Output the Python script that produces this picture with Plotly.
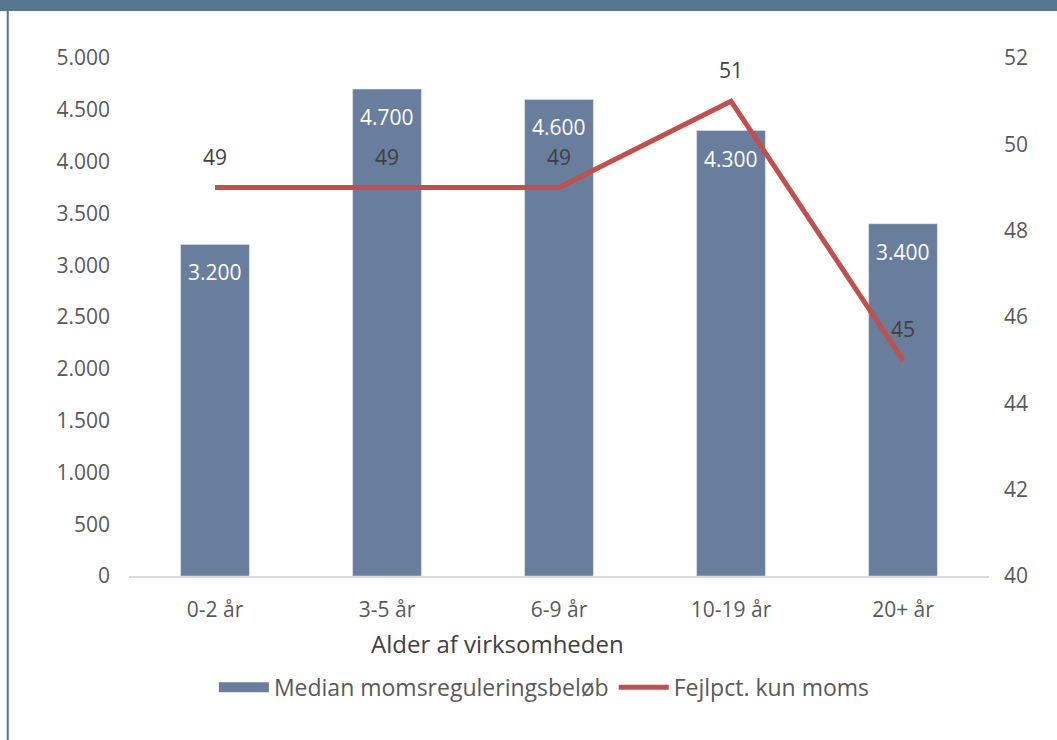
import plotly.graph_objects as go

categories = ["0-2 år", "3-5 år", "6-9 år", "10-19 år", "20+ år"]
median_beloeb = [3200, 4700, 4600, 4300, 3400]
fejlpct = [49, 49, 49, 51, 45]

FONT = "Open Sans"
GREY = "#595959"
BAR = "#687E9C"
LINE = "#C0504D"


def fmt_dk(v):
    return f"{v:,}".replace(",", ".")


fig = go.Figure()
fig.add_trace(go.Bar(
    x=categories, y=median_beloeb, name="Median momsreguleringsbeløb",
    marker_color=BAR, width=0.4, showlegend=False,
))
# legend-only entry so the bar swatch is a wide block like the original
fig.add_trace(go.Scatter(
    x=[None], y=[None], name="Median momsreguleringsbeløb", mode="lines",
    line=dict(color=BAR, width=14),
))
fig.add_trace(go.Scatter(
    x=categories, y=fejlpct, name="Fejlpct. kun moms", yaxis="y2",
    mode="lines", line=dict(color=LINE, width=5),
))
for c, v in zip(categories, median_beloeb):
    fig.add_annotation(x=c, y=v, text=fmt_dk(v), showarrow=False, yshift=-28,
                       font=dict(size=21, color="white", family=FONT))
for c, v in zip(categories, fejlpct):
    fig.add_annotation(x=c, y=v, yref="y2", text=str(v), showarrow=False,
                       yshift=31, font=dict(size=21, color="#404040", family=FONT))

# x-axis title sits left of centre in the original
fig.add_annotation(text="Alder af virksomheden", xref="paper", yref="paper",
                   x=0.428, y=-0.131, yanchor="middle", showarrow=False,
                   font=dict(size=24, color="#404040", family=FONT))

# frame decorations: header band and left rule
fig.add_shape(type="rect", xref="paper", yref="paper", x0=-0.16, x1=1.09,
              y0=1.0907, y1=1.13, fillcolor="#56758F", line_width=0, layer="below")
fig.add_shape(type="line", xref="paper", yref="paper", x0=-0.141, x1=-0.141,
              y0=-0.33, y1=1.0907, line=dict(color="#56758F", width=2))

fig.update_layout(
    width=1057, height=740,
    paper_bgcolor="white", plot_bgcolor="white",
    font=dict(family=FONT, size=22, color=GREY),
    margin=dict(l=129, r=68, t=58, b=164),
    bargap=0.6,
    xaxis=dict(showgrid=False, showline=True, linecolor="#D9D9D9", linewidth=1.5,
               ticks="", tickfont=dict(size=21, color=GREY), ticklabelstandoff=14),
    yaxis=dict(range=[0, 5000], dtick=500, showgrid=False, zeroline=False,
               tickformat=",d", ticks="", ticklabelstandoff=18,
               tickfont=dict(size=21, color=GREY)),
    yaxis2=dict(range=[40, 52], dtick=2, overlaying="y", side="right", showgrid=False,
                zeroline=False, ticks="", ticklabelstandoff=14,
                tickfont=dict(size=21, color=GREY)),
    separators=",.",
    legend=dict(orientation="h", x=0.483, xanchor="center", y=-0.215, yanchor="middle",
                font=dict(size=23, color=GREY), itemwidth=50, tracegroupgap=0),
)

fig.write_html("out.html", config={"displayModeBar": False},
               post_script="document.body.style.margin='0';")
